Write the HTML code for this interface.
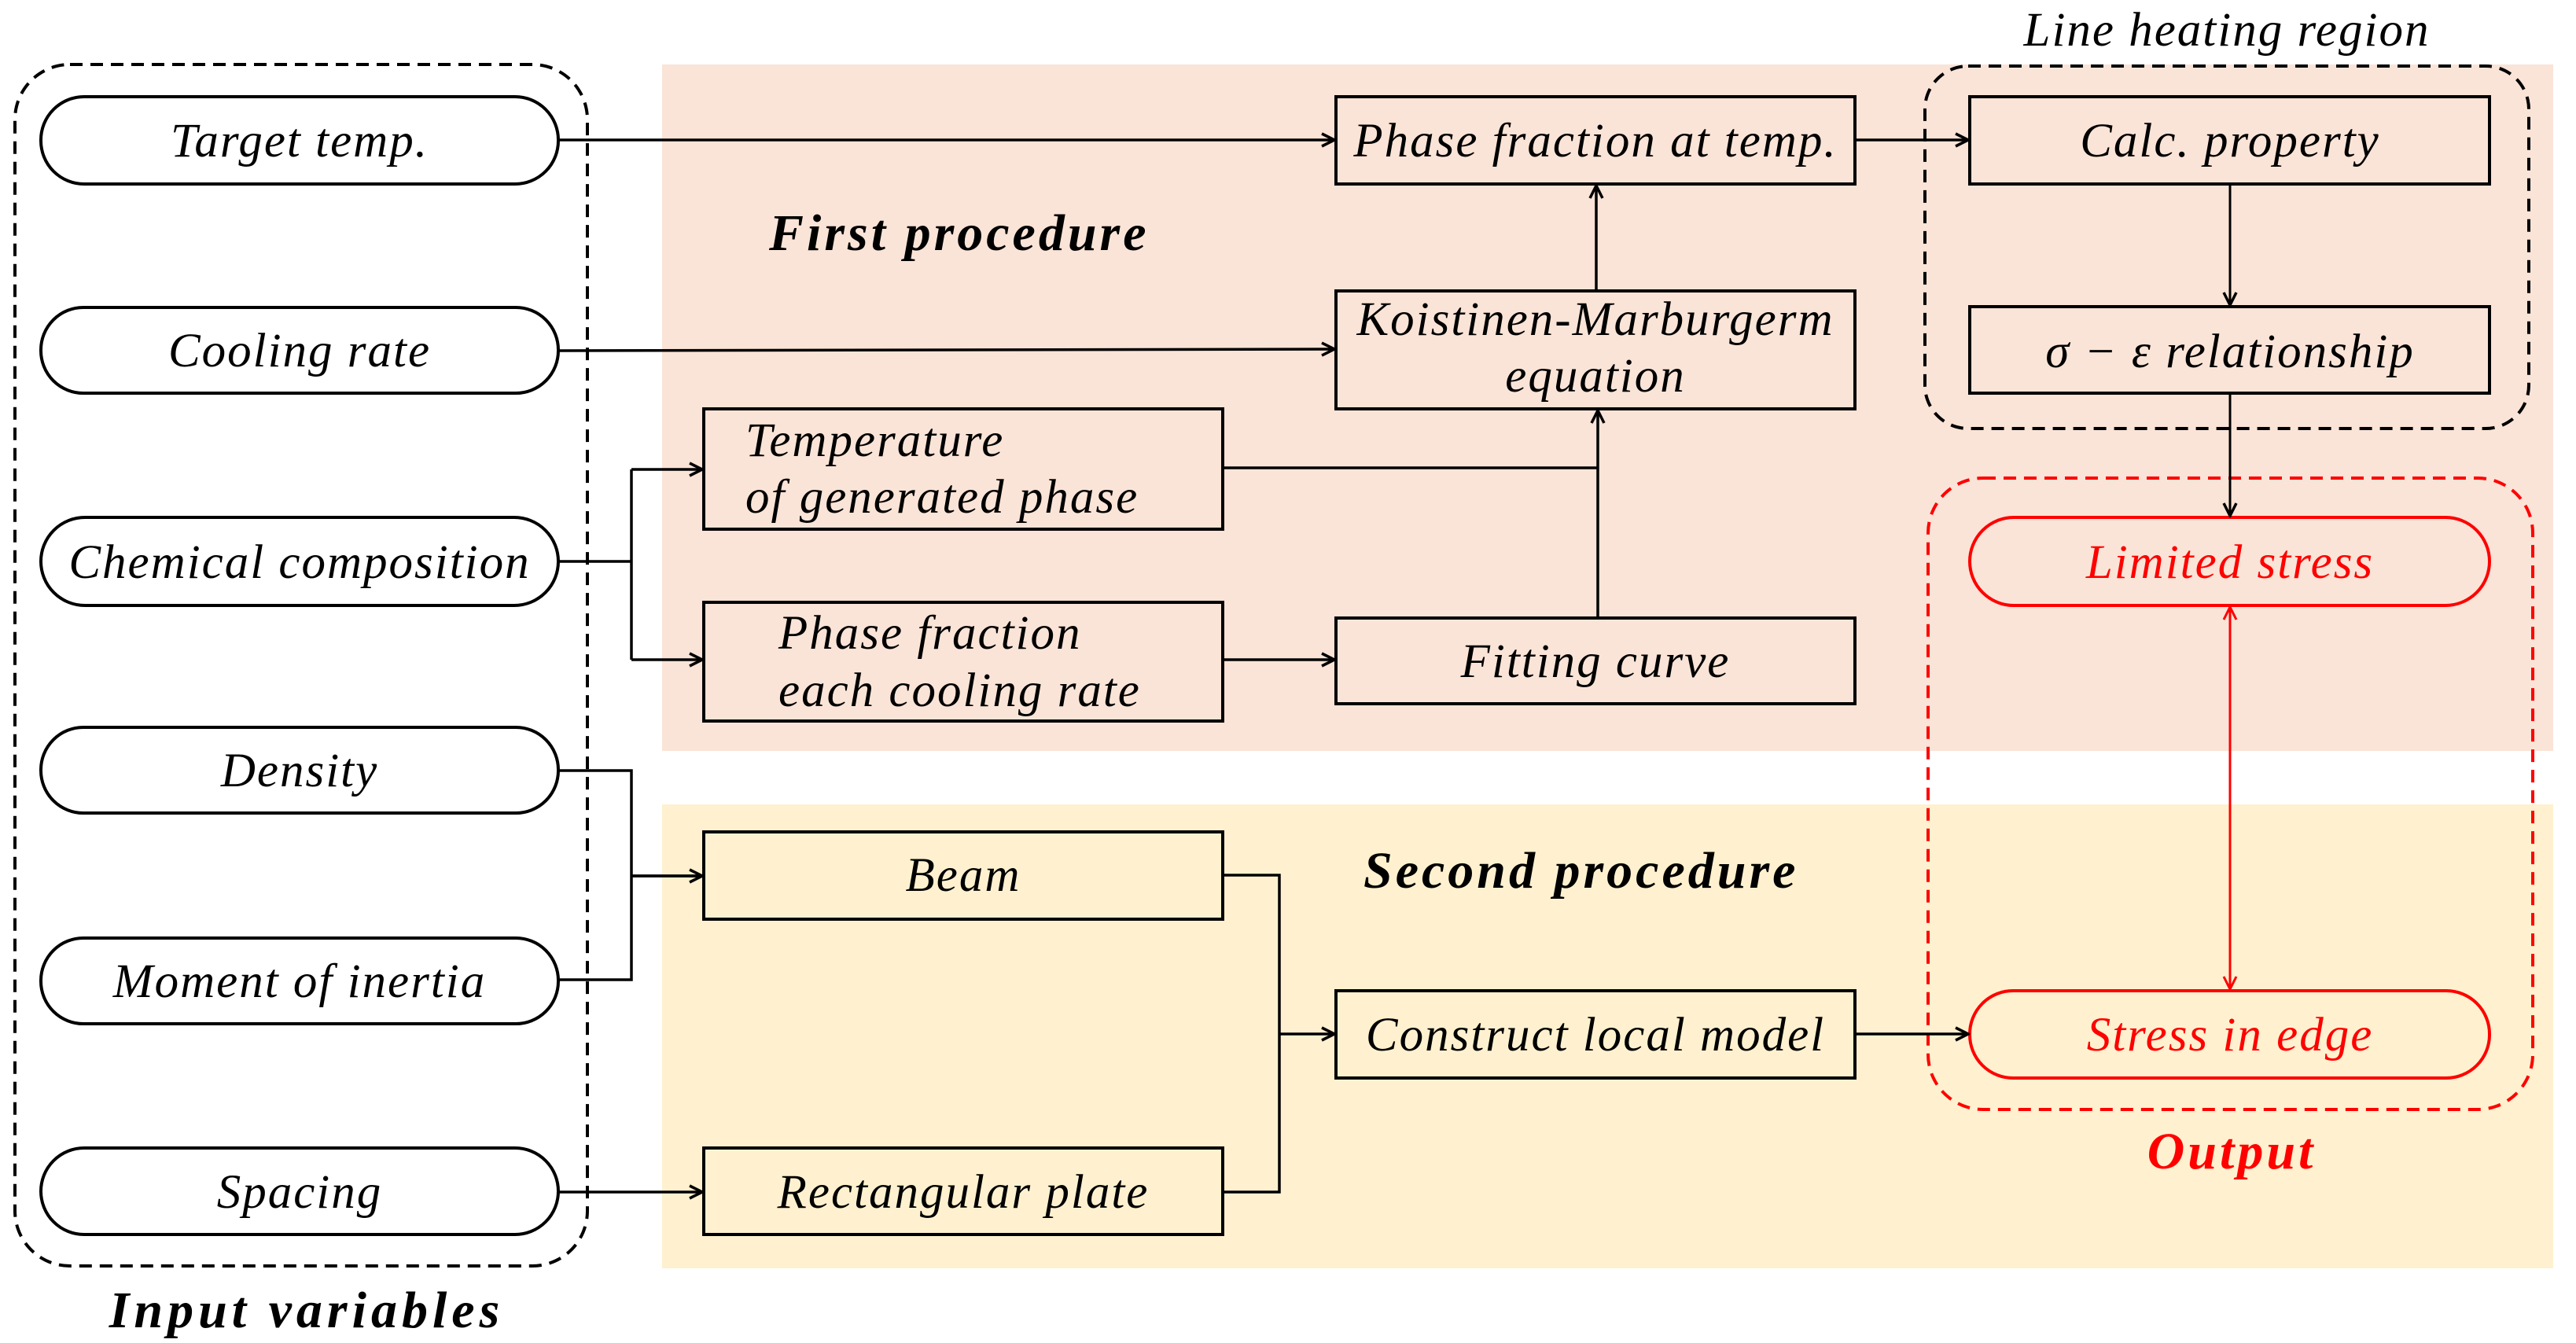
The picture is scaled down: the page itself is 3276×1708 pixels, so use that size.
<!DOCTYPE html>
<html><head><meta charset="utf-8"><style>
html,body{margin:0;padding:0;background:#fff}
svg{display:block}
text{font-family:"Liberation Serif",serif;font-style:italic;font-size:61px;letter-spacing:2px}
.b{font-size:66px;font-weight:bold;letter-spacing:4px}
</style></head><body>
<svg width="3276" height="1708" viewBox="0 0 3276 1708" xmlns="http://www.w3.org/2000/svg">
<defs>
<marker id="a" viewBox="0 0 20 20" refX="18" refY="10" markerWidth="20" markerHeight="20" markerUnits="userSpaceOnUse" orient="auto"><path d="M2 2 L18 10 L2 18" fill="none" stroke="#000" stroke-width="3.5"/></marker>
<marker id="r" viewBox="0 0 20 20" refX="18" refY="10" markerWidth="20" markerHeight="20" markerUnits="userSpaceOnUse" orient="auto-start-reverse"><path d="M2 2 L18 10 L2 18" fill="none" stroke="#f00" stroke-width="3"/></marker>
</defs>
<rect x="842" y="82" width="2405" height="873" fill="#fae4d7"/>
<rect x="842" y="1023" width="2405" height="590" fill="#fff1cf"/>

<rect x="19" y="82" width="728" height="1528" rx="70" fill="none" stroke="#000" stroke-width="4" stroke-dasharray="16 10"/>
<rect x="2448" y="84" width="768" height="461" rx="55" fill="none" stroke="#000" stroke-width="4" stroke-dasharray="16 10"/>
<rect x="2452" y="608" width="769" height="803" rx="70" fill="none" stroke="#f00" stroke-width="4" stroke-dasharray="16 10"/>

<g fill="#fff" stroke="#000" stroke-width="4">
<rect x="52" y="123" width="658" height="111" rx="55"/>
<rect x="52" y="391" width="658" height="109" rx="54"/>
<rect x="52" y="658" width="658" height="112" rx="56"/>
<rect x="52" y="925" width="658" height="109" rx="54"/>
<rect x="52" y="1193" width="658" height="109" rx="54"/>
<rect x="52" y="1460" width="658" height="110" rx="55"/>
</g>
<g fill="none" stroke="#000" stroke-width="4">
<rect x="895" y="520" width="660" height="153"/>
<rect x="895" y="766" width="660" height="151"/>
<rect x="895" y="1058" width="660" height="111"/>
<rect x="895" y="1460" width="660" height="110"/>
<rect x="1699" y="123" width="660" height="111"/>
<rect x="1699" y="370" width="660" height="150"/>
<rect x="1699" y="786" width="660" height="109"/>
<rect x="1699" y="1260" width="660" height="111"/>
<rect x="2505" y="123" width="661" height="111"/>
<rect x="2505" y="390" width="661" height="110"/>
</g>
<g fill="none" stroke="#f00" stroke-width="4">
<rect x="2505" y="658" width="661" height="112" rx="56"/>
<rect x="2505" y="1260" width="661" height="111" rx="55"/>
</g>

<g fill="none" stroke="#000" stroke-width="3.5">
<path d="M710 178 H1697" marker-end="url(#a)"/>
<path d="M710 446 L1697 444" marker-end="url(#a)"/>
<path d="M710 714 H803 M803 597 V839"/>
<path d="M803 597 H893" marker-end="url(#a)"/>
<path d="M803 839 H893" marker-end="url(#a)"/>
<path d="M710 980 H803 V1246 H710 M803 1114 H893"/>
<path d="M803 1114 H893" marker-end="url(#a)"/>
<path d="M710 1516 H893" marker-end="url(#a)"/>
<path d="M1555 839 H1697" marker-end="url(#a)"/>
<path d="M1555 1113 H1627 V1516 H1555"/>
<path d="M1627 1315 H1697" marker-end="url(#a)"/>
<path d="M2359 1315 H2503" marker-end="url(#a)"/>
<path d="M2359 178 H2503" marker-end="url(#a)"/>
<path d="M1555 595 H2032"/>
<path d="M2032 786 V522" marker-end="url(#a)"/>
<path d="M2030 370 V236" marker-end="url(#a)"/>
<path d="M2836 234 V388" marker-end="url(#a)" stroke-width="3"/>
<path d="M2836 500 V656" marker-end="url(#a)" stroke-width="3"/>
</g>
<path d="M2836 772 V1258" fill="none" stroke="#f00" stroke-width="3" marker-start="url(#r)" marker-end="url(#r)"/>

<g text-anchor="middle">
<text x="381" y="199">Target temp.</text>
<text x="381" y="466">Cooling rate</text>
<text x="381" y="735">Chemical composition</text>
<text x="381" y="1000">Density</text>
<text x="381" y="1268">Moment of inertia</text>
<text x="381" y="1536">Spacing</text>
<text x="1225" y="1133">Beam</text>
<text x="1225" y="1536">Rectangular plate</text>
<text x="2029" y="199" letter-spacing="1">Phase fraction at temp.</text>
<text x="2029" y="426" letter-spacing="1">Koistinen-Marburgerm</text>
<text x="2029" y="498">equation</text>
<text x="2029" y="861">Fitting curve</text>
<text x="2029" y="1336">Construct local model</text>
<text x="2836" y="199">Calc. property</text>
<text x="2836" y="467">σ − ε relationship</text>
<text x="2836" y="735" fill="#f00">Limited stress</text>
<text x="2836" y="1336" fill="#f00">Stress in edge</text>
<text x="2832" y="58" font-size="64" letter-spacing="4">Line heating region</text>
<text x="390" y="1688" class="b" style="letter-spacing:6px">Input variables</text>
<text x="2838" y="1486" class="b" fill="#f00">Output</text>
</g>
<text x="948" y="580">Temperature</text>
<text x="948" y="652">of  generated phase</text>
<text x="990" y="825">Phase fraction</text>
<text x="990" y="898">each cooling rate</text>
<text x="978" y="318" class="b">First procedure</text>
<text x="1734" y="1129" class="b">Second procedure</text>
</svg>
</body></html>
